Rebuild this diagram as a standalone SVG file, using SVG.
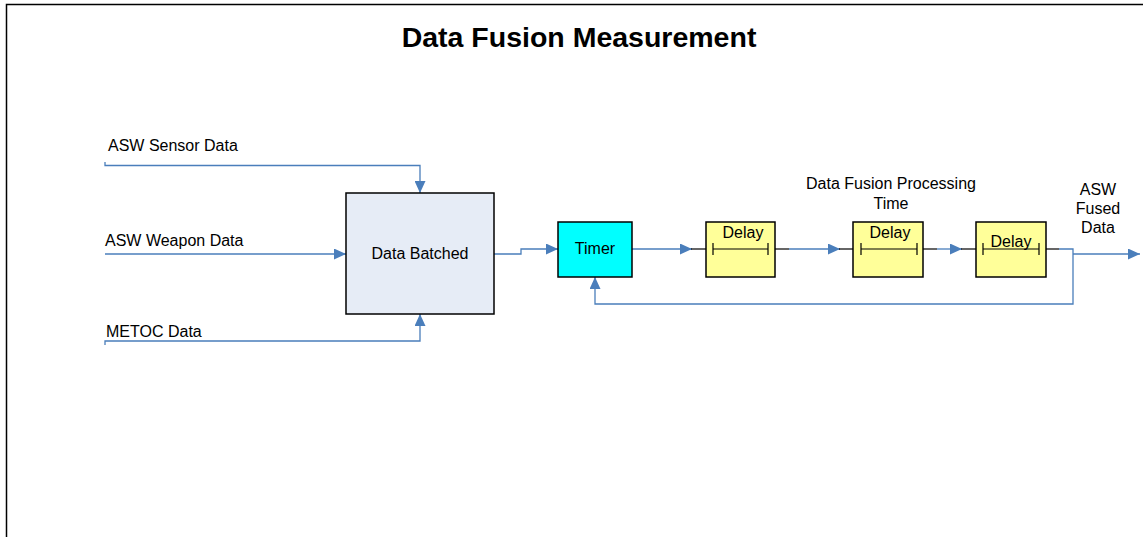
<svg xmlns="http://www.w3.org/2000/svg" width="1143" height="537" viewBox="0 0 1143 537">
<style>
text{font-family:"Liberation Sans",Arial,sans-serif;font-size:16px;fill:#000}
.t{font-size:28.5px;font-weight:bold}
.c{text-anchor:middle}
.w{fill:none;stroke:#4a7ebb;stroke-width:1.3}
.k{fill:none;stroke:#000;stroke-width:1.2}
.box{stroke:#000;stroke-width:1.5}
</style>
<defs>
<marker id="ar" viewBox="0 0 12 11" refX="12" refY="5.5" markerWidth="12" markerHeight="11" markerUnits="userSpaceOnUse" orient="auto">
<path d="M0,0 L12,5.5 L0,11 Z" fill="#4a7ebb"/>
</marker>
</defs>
<rect x="6.5" y="4.5" width="1150" height="550" fill="#fff" stroke="#000" stroke-width="1.5"/>
<text class="t c" x="579" y="47">Data Fusion Measurement</text>
<g id="connectors">
<path class="w" d="M105,162 V165.5 H420 V193" marker-end="url(#ar)"/>
<path class="w" d="M105,254 H346" marker-end="url(#ar)"/>
<path class="w" d="M105,345 V341 H420 V314" marker-end="url(#ar)"/>
<path class="w" d="M494,254 H521 V249 H558" marker-end="url(#ar)"/>
<path class="w" d="M632,249 H692" marker-end="url(#ar)"/>
<path class="k" d="M691,249 H706"/>
<path class="k" d="M775,249 H789"/>
<path class="w" d="M789,249 H840" marker-end="url(#ar)"/>
<path class="k" d="M839,249 H853"/>
<path class="k" d="M923,249 H937"/>
<path class="w" d="M937,249 H962" marker-end="url(#ar)"/>
<path class="k" d="M961,249 H976"/>
<path class="k" d="M1046,249 H1059"/>
<path class="w" d="M1059,249 H1073 V304 H595 V277" marker-end="url(#ar)"/>
<path class="w" d="M1073,254 H1140" marker-end="url(#ar)"/>
</g>
<g id="labels">
<text x="108" y="151">ASW Sensor Data</text>
<text x="105" y="246">ASW Weapon Data</text>
<text x="106" y="337">METOC Data</text>
<text class="c" x="891" y="189">Data Fusion Processing</text>
<text class="c" x="891" y="209">Time</text>
<text class="c" x="1098" y="195">ASW</text>
<text class="c" x="1098" y="214">Fused</text>
<text class="c" x="1098" y="233">Data</text>
</g>
<g id="data-batched">
<rect class="box" x="346" y="193" width="148" height="121" fill="#e6ecf6"/>
<text class="c" x="420" y="259">Data Batched</text>
</g>
<g id="timer">
<rect class="box" x="558" y="222" width="74" height="55" fill="#00ffff"/>
<text class="c" x="595" y="254">Timer</text>
</g>
<g id="delay1">
<rect class="box" x="706" y="222" width="69" height="55" fill="#ffff99"/>
<text class="c" x="743" y="238">Delay</text>
<path class="k" d="M713,249 H768 M713,243 V255 M768,243 V255"/>
</g>
<g id="delay2">
<rect class="box" x="853" y="222" width="70" height="55" fill="#ffff99"/>
<text class="c" x="890" y="238">Delay</text>
<path class="k" d="M861,249 H917 M861,243 V255 M917,243 V255"/>
</g>
<g id="delay3">
<rect class="box" x="976" y="222" width="70" height="55" fill="#ffff99"/>
<text class="c" x="1011" y="247">Delay</text>
<path class="k" d="M983,249 H1039 M983,243 V255 M1039,243 V255"/>
</g>
</svg>
